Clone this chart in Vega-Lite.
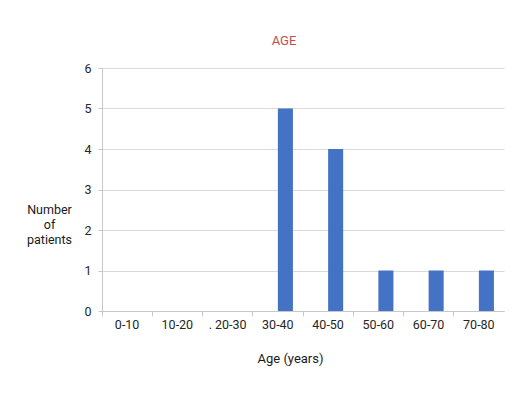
{
  "$schema": "https://vega.github.io/schema/vega-lite/v6.json",
  "autosize": "none",
  "width": 402,
  "height": 243,
  "padding": {"left": 102, "top": 68, "right": 21, "bottom": 83},
  "background": "white",
  "title": {"text": "AGE", "color": "#c0504d", "fontSize": 13, "font": "Roboto", "fontWeight": "normal", "anchor": "middle", "offset": 14, "dx": -19},
  "config": {
    "view": {"stroke": null},
    "font": "Roboto",
    "axis": {"labelFont": "Roboto", "titleFont": "Roboto", "labelColor": "#262626", "titleColor": "#1a1a1a", "labelFontSize": 12.5, "titleFontWeight": "normal", "domainColor": "#c8c8c8", "tickColor": "#c8c8c8", "gridColor": "#d9d9d9"}
  },
  "data": {"values": [
    {"age": "0-10", "series": "b", "count": 0},
    {"age": "10-20", "series": "b", "count": 0},
    {"age": "20-30", "series": "b", "count": 0},
    {"age": "30-40", "series": "b", "count": 5},
    {"age": "40-50", "series": "b", "count": 4},
    {"age": "50-60", "series": "b", "count": 1},
    {"age": "60-70", "series": "b", "count": 1},
    {"age": "70-80", "series": "b", "count": 1}
  ]},
  "mark": {"type": "bar", "color": "#4472c4"},
  "encoding": {
    "x": {
      "field": "age", "type": "nominal", "sort": null,
      "scale": {"domain": ["0-10","10-20","20-30","30-40","40-50","50-60","60-70","70-80"], "paddingInner": 0, "paddingOuter": 0},
      "axis": {"title": "Age (years)", "labelAngle": 0, "bandPosition": 0, "ticks": true, "tickSize": 5, "labelPadding": 2, "grid": false,
               "labelExpr": "datum.value == '20-30' ? '.   20-30' : datum.value",
               "titleX": 188, "titleY": 47, "titleBaseline": "middle", "titleAlign": "center", "titleFontSize": 13}
    },
    "xOffset": {"field": "series", "type": "nominal", "scale": {"domain": ["a", "b"], "paddingInner": 0, "paddingOuter": 0.67}},
    "y": {
      "field": "count", "type": "quantitative",
      "scale": {"domain": [0, 6], "nice": false},
      "axis": {"title": ["Number", "of", "patients"], "titleAngle": 0, "titleX": -53, "titleY": 135, "titleAlign": "center", "titleBaseline": "top", "titleLineHeight": 15, "titleFontSize": 12.5,
               "values": [0,1,2,3,4,5,6], "tickSize": 4, "labelPadding": 7, "grid": true, "domain": true}
    }
  }
}
